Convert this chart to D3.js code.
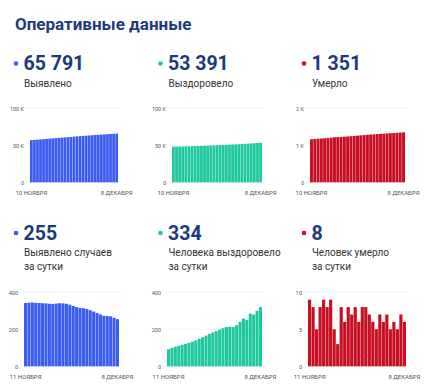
<!DOCTYPE html>
<html>
<head>
<meta charset="utf-8">
<script src="https://cdn.jsdelivr.net/npm/d3@7"></script>
<style>
  html, body { margin: 0; padding: 0; background: #fff; }
  svg { display: block; font-family: Roboto, "Noto Sans", sans-serif; }
  .tick text { fill: #555; }
</style>
</head>
<body>
<svg id="chart" width="430" height="388"></svg>
<script>
// dates
var daysTop = ["10.11","11.11","12.11","13.11","14.11","15.11","16.11","17.11","18.11","19.11",
  "20.11","21.11","22.11","23.11","24.11","25.11","26.11","27.11","28.11","29.11","30.11",
  "01.12","02.12","03.12","04.12","05.12","06.12","07.12","08.12"];
var daysBottom = ["11.11","12.11","13.11","14.11","15.11","16.11","17.11","18.11","19.11",
  "20.11","21.11","22.11","23.11","24.11","25.11","26.11","27.11","28.11","29.11","30.11",
  "01.12","02.12","03.12","04.12","05.12","06.12","07.12","08.12"];
var topTickLabels = ["10 НОЯБРЯ", "8 ДЕКАБРЯ"];
var bottomTickLabels = ["11 НОЯБРЯ", "8 ДЕКАБРЯ"];

// cumulative totals
var casesTotal = [56943,57285,57629,57974,58317,58659,59000,59340,59678,60015,60354,60695,61035,
  61373,61706,62032,62352,62668,62982,63292,63595,63891,64179,64459,64732,65004,65274,65536,65791];
var recoveredTotal = [48129,48221,48321,48427,48538,48654,48775,48902,49035,49175,49323,49480,49646,
  49821,50004,50194,50392,50598,50810,51024,51236,51458,51698,51956,52206,52491,52771,53071,53391];
var deathsTotal = [1161,1170,1178,1183,1191,1200,1208,1217,1222,1225,1233,1239,1247,1254,1262,
  1268,1276,1284,1291,1297,1302,1309,1315,1322,1327,1333,1338,1345,1351];

// per day
var casesDaily = [342,344,345,343,342,341,340,338,337,339,341,340,338,333,326,320,316,314,310,
  303,296,288,280,273,272,270,262,255];
var recoveredDaily = [92,100,106,111,116,121,127,133,140,148,157,166,175,183,190,198,206,212,214,
  212,222,240,258,250,285,280,300,320];
var deathsDaily = [9,8,5,8,9,8,9,5,3,8,6,8,7,8,6,8,8,7,6,5,7,6,7,5,6,5,7,6];

var headline = ["65 791", "53 391", "1 351"];
var headlineText = ["Выявлено", "Выздоровело", "Умерло"];
var dailyHeadline = ["255", "334", "8"];
var dailyText = [["Выявлено случаев", "за сутки"], ["Человека выздоровело", "за сутки"], ["Человек умерло", "за сутки"]];

var colors = ["#3a5cf2", "#1fc7a0", "#c80f22"];
var navy = "#1d3a7c";

var svg = d3.select("#chart");

svg.append("text")
  .attr("x", 15).attr("y", 30)
  .attr("font-size", 17).attr("font-weight", 700)
  .attr("fill", navy)
  .text("Оперативные данные");

var colX = [16, 160.5, 304];

function header(i, y, num, lines) {
  svg.append("circle").attr("cx", colX[i]).attr("cy", y - 6.5).attr("r", 2.3).attr("fill", colors[i]);
  svg.append("text")
    .attr("x", colX[i] + 7.5).attr("y", y)
    .attr("font-size", 19.5).attr("font-weight", 700)
    .attr("fill", navy)
    .text(num);
  lines.forEach(function(l, j) {
    svg.append("text")
      .attr("x", colX[i] + 8).attr("y", y + 16.5 + j * 13.5)
      .attr("font-size", 10).attr("fill", "#333")
      .text(l);
  });
}

for (var i = 0; i < 3; i++) {
  header(i, 70, headline[i], [headlineText[i]]);
  header(i, 239.5, dailyHeadline[i], dailyText[i]);
}

function drawChart(o) {
  var x = d3.scaleBand().domain(o.cats).range([o.x0, o.x1]).paddingInner(0.1).paddingOuter(0);
  var y = d3.scaleLinear().domain([0, o.max]).range([o.top + 74, o.top]);
  var g = svg.append("g");

  g.selectAll(".grid").data(o.ticks).enter().append("line")
    .attr("x1", o.x0 - 4).attr("x2", o.x1 + 2)
    .attr("y1", function(d) { return y(d); })
    .attr("y2", function(d) { return y(d); })
    .attr("stroke", "#eeeeee").attr("stroke-width", 0.8);

  g.selectAll("rect").data(o.values).enter().append("rect")
    .attr("x", function(d, i) { return x(o.cats[i]); })
    .attr("y", function(d) { return y(d); })
    .attr("width", x.bandwidth())
    .attr("height", function(d) { return y(0) - y(d); })
    .attr("fill", o.color);

  var yAxis = g.append("g")
    .attr("transform", "translate(" + o.x0 + ",0)")
    .call(d3.axisLeft(y).tickValues(o.ticks).tickSize(0).tickPadding(6).tickFormat(o.fmt));
  yAxis.select(".domain").remove();
  yAxis.selectAll("text").attr("font-size", 5.5).attr("font-family", "Roboto, sans-serif");

  var first = o.cats[0], last = o.cats[o.cats.length - 1];
  var xAxis = g.append("g")
    .attr("transform", "translate(0," + (o.top + 74) + ")")
    .call(d3.axisBottom(x).tickValues([first, last]).tickSize(0).tickPadding(8)
      .tickFormat(function(d) { return d === first ? o.labels[0] : o.labels[1]; }));
  xAxis.select(".domain").remove();
  xAxis.selectAll("text").attr("font-size", 6).attr("font-family", "Roboto, sans-serif");
}

var fmtK = function(d) { return d === 0 ? "0" : (d / 1000) + " K"; };
var fmtN = function(d) { return String(d); };

drawChart({ cats: daysTop, values: casesTotal, x0: 30, x1: 118, top: 108.3, max: 100000,
  ticks: [0, 50000, 100000], fmt: fmtK, color: colors[0], labels: topTickLabels });
drawChart({ cats: daysTop, values: recoveredTotal, x0: 172, x1: 262, top: 108.3, max: 100000,
  ticks: [0, 50000, 100000], fmt: fmtK, color: colors[1], labels: topTickLabels });
drawChart({ cats: daysTop, values: deathsTotal, x0: 310, x1: 405, top: 108.3, max: 2000,
  ticks: [0, 1000, 2000], fmt: fmtK, color: colors[2], labels: topTickLabels });

drawChart({ cats: daysBottom, values: casesDaily, x0: 24, x1: 119, top: 292.3, max: 400,
  ticks: [0, 200, 400], fmt: fmtN, color: colors[0], labels: bottomTickLabels });
drawChart({ cats: daysBottom, values: recoveredDaily, x0: 167, x1: 262, top: 292.3, max: 400,
  ticks: [0, 200, 400], fmt: fmtN, color: colors[1], labels: bottomTickLabels });
drawChart({ cats: daysBottom, values: deathsDaily, x0: 308, x1: 406, top: 292.3, max: 10,
  ticks: [0, 5, 10], fmt: fmtN, color: colors[2], labels: bottomTickLabels });
</script>
</body>
</html>
